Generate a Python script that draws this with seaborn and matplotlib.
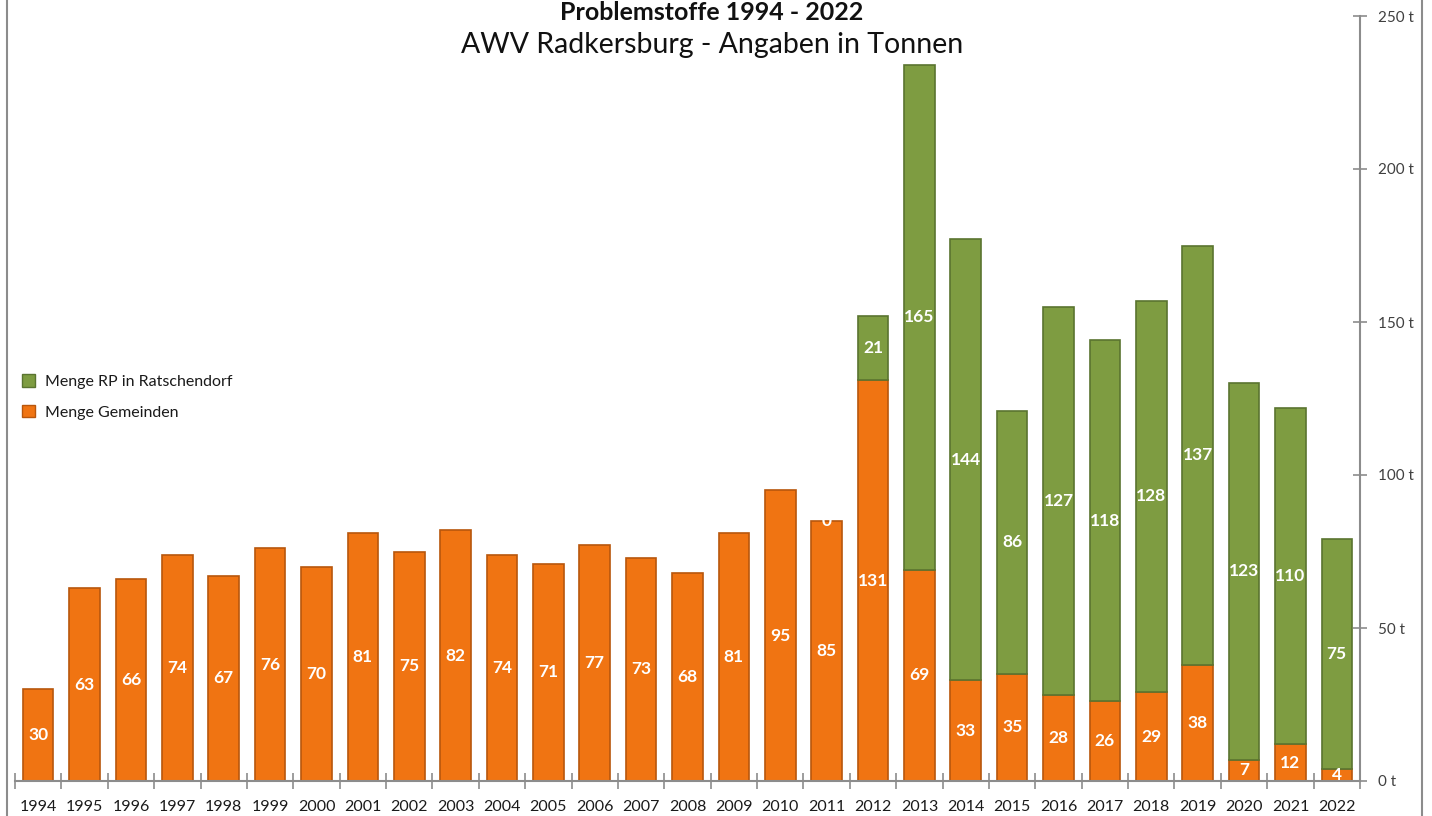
import numpy as np
import pandas as pd
import matplotlib
matplotlib.use("Agg")
import matplotlib.pyplot as plt
from matplotlib.patches import Patch, Rectangle
import seaborn as sns

years = [str(y) for y in range(1994, 2023)]
gemeinden = [30, 63, 66, 74, 67, 76, 70, 81, 75, 82, 74, 71, 77, 73, 68,
             81, 95, 85, 131, 69, 33, 35, 28, 26, 29, 38, 7, 12, 4]
# RP Ratschendorf: no data before 2011
rp_years = [str(y) for y in range(2011, 2023)]
rp = [0, 21, 165, 144, 86, 127, 118, 128, 137, 123, 110, 75]
y_ticks = [0, 50, 100, 150, 200, 250]
y_labels = [f"{v} t" for v in y_ticks]

orange = "#F07412"
orange_edge = "#B8560C"
green = "#7E9C41"
green_edge = "#5A7430"
grey = "#8C8C8C"

sns.set_theme(style="white")
plt.rcParams["font.family"] = ["Lato", "DejaVu Sans"]

df_g = pd.DataFrame({"Jahr": years, "Menge": gemeinden})
df_rp = pd.DataFrame({"Jahr": rp_years, "Menge": rp})
df_rp["Basis"] = [gemeinden[years.index(j)] for j in rp_years]
df_rp_bars = df_rp[df_rp["Menge"] > 0]

fig = plt.figure(figsize=(14.32, 8.16), dpi=100)
ax = fig.add_axes([15 / 1432, 35 / 816, 1345 / 1432, 765 / 816])

sns.barplot(data=df_g, x="Jahr", y="Menge", order=years, color=orange,
            width=0.66, edgecolor=orange_edge, linewidth=1.2, saturation=1,
            ax=ax)
sns.barplot(data=df_rp_bars, x="Jahr", y="Menge", order=years, color=green,
            width=0.66, edgecolor=green_edge, linewidth=1.2, saturation=1,
            bottom=df_rp_bars["Basis"].values, ax=ax)

# value labels in segment centres
for i, v in enumerate(gemeinden):
    ax.text(i, v / 2, str(v), ha="center", va="center", color="white",
            fontsize=12.5, fontweight="bold")
for j, v, b in zip(df_rp["Jahr"], df_rp["Menge"], df_rp["Basis"]):
    ax.text(years.index(j), b + v / 2, str(v), ha="center", va="center",
            color="white", fontsize=12.5, fontweight="bold")

ax.set_xlim(-0.5, len(years) - 0.5)
ax.set_ylim(0, 250)
ax.set_xlabel("")
ax.set_ylabel("")

# right hand value axis
ax.yaxis.tick_right()
ax.set_yticks(y_ticks)
ax.set_yticklabels(y_labels)
ax.tick_params(axis="y", direction="inout", length=10, width=1.2,
               color=grey, labelsize=11, labelcolor="#404040", pad=8,
               right=True, left=False)

# category axis with ticks between the bars
ax.set_xticks(range(len(years)))
ax.set_xticklabels(years)
ax.set_xticks(np.arange(-0.5, len(years), 1), minor=True)
ax.tick_params(axis="x", which="major", length=0, labelsize=11.5,
               labelcolor="#1a1a1a", pad=14)
ax.tick_params(axis="x", which="minor", direction="inout", length=12,
               width=1.2, color=grey, bottom=True)

for side in ["left", "top"]:
    ax.spines[side].set_visible(False)
for side in ["right", "bottom"]:
    ax.spines[side].set_color(grey)
    ax.spines[side].set_linewidth(1.5)

fig.text(712 / 1432, 1 - 1 / 816, "Problemstoffe 1994 - 2022",
         ha="center", va="top", fontsize=18, fontweight="bold",
         color="#111111")
fig.text(712 / 1432, 1 - 45 / 816, "AWV Radkersburg - Angaben in Tonnen",
         ha="center", va="center", fontsize=20.5, color="#111111")

handles = [Patch(facecolor=green, edgecolor=green_edge),
           Patch(facecolor=orange, edgecolor=orange_edge)]
fig.legend(handles, ["Menge RP in Ratschendorf", "Menge Gemeinden"],
           loc="upper left", bbox_to_anchor=(8 / 1432, 1 - 360 / 816),
           frameon=False, fontsize=11.5, handlelength=0.8, handleheight=0.8,
           handletextpad=0.6, labelspacing=1.0, labelcolor="#1a1a1a")

# chart border (cut off at top and bottom)
fig.patches.append(Rectangle((7 / 1432, -0.05), 1415 / 1432, 1.1,
                             transform=fig.transFigure, fill=False,
                             edgecolor=grey, linewidth=1.5))

fig.savefig("out.png", dpi=100)
